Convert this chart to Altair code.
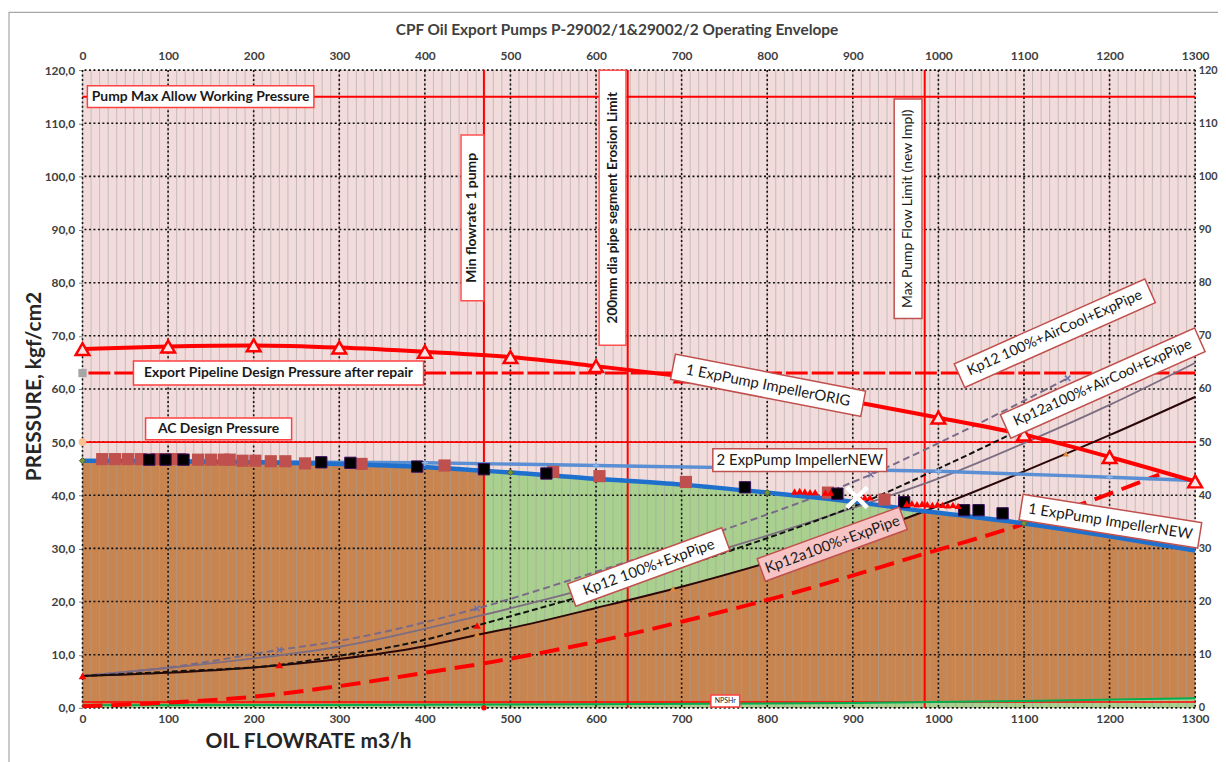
import altair as alt
import pandas as pd

# ---------------- data ----------------
TITLE = "CPF Oil Export Pumps P-29002/1&29002/2 Operating Envelope"
X_MAJOR = list(range(0, 1301, 100))
Y_MAJOR = list(range(0, 121, 10))
X_MINOR = list(range(0, 1301, 10))

# pump curves
new1_x = [0, 100, 200, 300, 400, 469, 500, 600, 700, 800, 900, 984, 1000, 1100, 1200, 1300]
new1_y = [46.5, 46.4, 46.2, 45.9, 45.3, 44.6, 44.3, 43.1, 42.0, 40.5, 38.8, 37.0, 36.7, 34.7, 32.3, 29.6]
new2_x = [0, 200, 400, 600, 800, 1000, 1200, 1300]
new2_y = [46.5, 46.3, 46.1, 45.6, 45.1, 44.5, 43.4, 42.8]
orig_x = [0, 100, 200, 300, 400, 500, 600, 700, 800, 900, 1000, 1100, 1200, 1300]
orig_y = [67.5, 68.0, 68.2, 67.8, 67.0, 66.0, 64.3, 62.4, 60.2, 57.6, 54.6, 51.4, 47.2, 42.6]

# system curves
a_x = [0, 100, 230, 300, 461, 600, 774, 921, 1000, 1151]            # Kp12 100%+AirCool+ExpPipe
a_y = [6.0, 7.6, 10.9, 12.6, 18.7, 25.6, 34.9, 43.9, 49.8, 62.0]
b_x = [0, 100, 230, 300, 461, 600, 700, 800, 900, 1006, 1100, 1200, 1300]  # Kp12 100%+ExpPipe
b_y = [6.0, 7.5, 9.9, 11.5, 17.2, 22.9, 27.5, 32.4, 37.6, 43.5, 49.8, 57.0, 64.9]
c_x = [0, 100, 230, 300, 400, 461, 600, 763, 929, 1000, 1151]        # Kp12a100%+AirCool+ExpPipe
c_y = [6.0, 6.8, 8.1, 9.8, 12.8, 15.5, 21.8, 29.9, 39.8, 45.0, 56.7]
d_x = [0, 100, 200, 300, 400, 469, 500, 600, 700, 800, 900, 984, 1000, 1100, 1200, 1300]  # Kp12a100%+ExpPipe
d_y = [6.0, 6.6, 7.6, 9.2, 11.6, 14.0, 15.0, 18.8, 22.8, 27.3, 32.2, 37.0, 38.0, 44.5, 51.3, 58.5]
e_x = [0, 100, 200, 300, 400, 484, 607, 725, 807, 984, 1100, 1177, 1258]  # red dashed curve
e_y = [0.3, 1.0, 2.1, 4.1, 6.6, 8.8, 12.7, 17.2, 20.6, 29.0, 34.6, 38.9, 43.9]
npsh_x = [0, 300, 600, 900, 1100, 1300]
npsh_y = [0.5, 0.55, 0.7, 0.9, 1.3, 1.8]

# green operating window
green_x = [469, 500, 600, 700, 800, 900, 984]
green_lo = [14.0, 15.0, 18.8, 22.8, 27.3, 32.2, 37.0]
green_hi = [44.6, 44.3, 43.1, 42.0, 40.5, 38.8, 37.0]

# limits
vline_x = [469, 637, 984]
hline_solid_y = [115, 50]
hline_dash_y = [63]
npsh_red_y = [1.1]

# measured points
blk_x = [78, 97, 118, 279, 313, 391, 469, 542, 774, 882, 960, 1030, 1047, 1075]
blk_y = [46.7, 46.7, 46.7, 46.2, 46.1, 45.4, 44.9, 44.1, 41.5, 40.3, 38.7, 37.2, 37.2, 36.6]
red_x = [23, 38, 53, 68, 87, 100, 114, 135, 150, 165, 172, 187, 202, 220, 237, 260, 326, 423, 550, 604, 705, 871, 937]
red_y = [46.8, 46.8, 46.8, 46.8, 46.8, 46.8, 46.8, 46.7, 46.7, 46.7, 46.7, 46.5, 46.5, 46.4, 46.4, 46.0, 45.9,
         45.6, 44.4, 43.6, 42.5, 40.5, 39.2]
tri_x = [832, 838, 844, 850, 856, 868, 874, 908, 914, 920, 963, 969, 975, 981, 987, 993, 999, 1005, 1011, 1017, 1023]
tri_y = [40.7, 40.8, 40.7, 40.6, 40.6, 40.5, 40.5, 39.7, 39.6, 39.6, 38.4, 38.5, 38.3, 38.4, 38.3, 38.2, 38.3,
         38.2, 38.1, 38.2, 38.0]
cx_x = [905]
cx_y = [39.6]
dia_x = [0, 500, 800, 900, 1100]
dia_y = [46.5, 44.3, 40.5, 38.8, 34.7]
plus_x = [400, 600, 800, 1000, 1200]
plus_y = [46.1, 45.6, 45.1, 44.5, 43.4]
ax_mk_x = [230, 461, 921, 1151]
ax_mk_y = [10.9, 18.7, 43.9, 62.0]
c_mk_x = [0, 230, 461, 1151]
c_mk_y = [6.0, 8.1, 15.5, 56.7]
d_mk_x = [461, 690, 1149]
d_mk_y = [13.9, 22.4, 47.8]

# labels: text, x, y, angle, box w, box h, font size, weight, fill, stroke
labels = [
    ("Pump Max Allow Working Pressure", 138, 115.0, 0, 228, 22, 14, "bold", "white", "#ff4040"),
    ("Export Pipeline Design Pressure after repair", 229, 63.0, 0, 292, 24, 14, "bold", "white", "#ff4040"),
    ("AC Design Pressure", 159, 52.5, 0, 147, 22, 14, "bold", "white", "#ff4040"),
    ("Min flowrate 1 pump", 455.6, 92.2, 270, 167, 23, 14, "bold", "white", "#ff5050"),
    ("200mm dia  pipe segment Erosion Limit", 619.3, 94.1, 270, 277, 27, 13.5, "bold", "white", "#ff5050"),
    ("Max Pump Flow Limit (new Impl)", 964.6, 93.9, 270, 221, 28, 14, "normal", "white", "#c0504d"),
    ("1 ExpPump ImpellerORIG", 801, 60.7, 11, 195, 26, 15, "normal", "white", "#c0504d"),
    ("2 ExpPump ImpellerNEW", 838, 46.6, 0, 175, 23, 15, "normal", "white", "#c0504d"),
    ("1 ExpPump ImpellerNEW", 1201, 35.1, 9, 182, 26, 15, "normal", "white", "#c0504d"),
    ("Kp12 100%+ExpPipe", 661.6, 26.5, 340, 165, 24, 15, "normal", "white", "#c0504d"),
    ("Kp12a100%+ExpPipe", 876, 30.8, 340, 152, 24, 15, "normal", "#f6c4c4", "#c0504d"),
    ("Kp12 100%+AirCool+ExpPipe", 1136, 70.5, 336, 210, 26, 14.5, "normal", "white", "#c0504d"),
    ("Kp12a100%+AirCool+ExpPipe", 1192, 61.1, 336, 214, 26, 14.5, "normal", "white", "#c0504d"),
    ("NPSHr", 751, 1.3, 0, 29, 12, 7, "normal", "white", "#ff4040"),
]

# ---------------- helpers ----------------
FONT = "Lato"
xs = alt.Scale(domain=[0, 1300], nice=False, zero=False)
ys = alt.Scale(domain=[0, 120], nice=False, zero=False)


def X(f="x"):
    return alt.X(f"{f}:Q", scale=xs, axis=None)


def Y(f="y"):
    return alt.Y(f"{f}:Q", scale=ys, axis=None)


def df(xv, yv):
    return pd.DataFrame({"x": xv, "y": yv})


def line(xv, yv, color, width, dash=None, interp="monotone"):
    kw = dict(color=color, strokeWidth=width, interpolate=interp)
    if dash:
        kw["strokeDash"] = dash
    return alt.Chart(df(xv, yv)).mark_line(**kw).encode(x=X(), y=Y())


def pts(xv, yv, shape, size, fill=None, stroke=None, sw=1.0):
    kw = dict(shape=shape, size=size, opacity=1, strokeWidth=sw)
    if fill:
        kw["filled"] = True
        kw["fill"] = fill
    else:
        kw["filled"] = False
    if stroke:
        kw["stroke"] = stroke
    else:
        kw["strokeWidth"] = 0
    return alt.Chart(df(xv, yv)).mark_point(**kw).encode(x=X(), y=Y())


layers = []

# fills
brown = pd.DataFrame({"x": new1_x, "y": new1_y, "y0": [0] * len(new1_x)})
layers.append(alt.Chart(brown).mark_area(color="#c98550", interpolate="monotone", opacity=1).encode(
    x=X(), y=Y(), y2="y0:Q"))
green = pd.DataFrame({"x": green_x, "lo": green_lo, "hi": green_hi})
layers.append(alt.Chart(green).mark_area(color="#a9d08e", interpolate="monotone", opacity=1).encode(
    x=X(), y=Y("lo"), y2="hi:Q"))
npsh = pd.DataFrame({"x": npsh_x, "y": npsh_y, "y0": [0] * len(npsh_x)})
layers.append(alt.Chart(npsh).mark_area(color="#a9d08e", opacity=1).encode(x=X(), y=Y(), y2="y0:Q"))

# grids
layers.append(alt.Chart(pd.DataFrame({"x": X_MINOR})).mark_rule(color="#a0a0a0", strokeWidth=1, opacity=0.55)
              .encode(x=X()))
layers.append(alt.Chart(pd.DataFrame({"x": X_MAJOR})).mark_rule(color="#111111", strokeWidth=1.6, strokeDash=[2, 2.5])
              .encode(x=X()))
layers.append(alt.Chart(pd.DataFrame({"y": Y_MAJOR})).mark_rule(color="#111111", strokeWidth=1.6, strokeDash=[2, 2.5])
              .encode(y=Y()))

# limit lines
layers.append(alt.Chart(pd.DataFrame({"y": hline_solid_y})).mark_rule(color="#ff0000", strokeWidth=2)
              .encode(y=Y()))
layers.append(alt.Chart(pd.DataFrame({"y": hline_dash_y})).mark_rule(color="#ff0000", strokeWidth=3, strokeDash=[22, 4])
              .encode(y=Y()))
layers.append(alt.Chart(pd.DataFrame({"y": npsh_red_y})).mark_rule(color="#ff0000", strokeWidth=1.5)
              .encode(y=Y()))
layers.append(alt.Chart(pd.DataFrame({"x": vline_x})).mark_rule(color="#ff0000", strokeWidth=2)
              .encode(x=X()))
layers.append(line(npsh_x, npsh_y, "#00b050", 2, interp="linear"))

# system curves
layers.append(line(e_x, e_y, "#ff0000", 4, dash=[20, 9]))
layers.append(line(b_x, b_y, "#7d6d82", 1.8))
layers.append(line(a_x, a_y, "#7a6a88", 2, dash=[7, 4]))
layers.append(line(d_x, d_y, "#2a0808", 2))
layers.append(line(c_x, c_y, "#111111", 2, dash=[6, 3]))

# pump curves
layers.append(line(new2_x, new2_y, "#5b8fd3", 3.5))
layers.append(line(new1_x, new1_y, "#1f6fcc", 4.5))
layers.append(line(orig_x, orig_y, "#ff0000", 4))

# markers
layers.append(pts(red_x, red_y, "square", 150, fill="#c0504d"))
layers.append(pts(blk_x, blk_y, "square", 130, fill="#000000", stroke="#3a1060", sw=1))
layers.append(pts(tri_x, tri_y, "triangle-up", 55, fill="#ff0000"))
layers.append(pts(dia_x, dia_y, "diamond", 40, fill="#77933c", stroke="#4f6228", sw=1))
layers.append(pts(plus_x, plus_y, "M-1,0L1,0M0,-1L0,1", 40, stroke="#8eb4e3", sw=1.5))
layers.append(pts(ax_mk_x, ax_mk_y, "M-1,-1L1,1M-1,1L1,-1", 30, stroke="#6f70a8", sw=1.5))
layers.append(pts(c_mk_x, c_mk_y, "triangle-up", 60, fill="#ff0000"))
layers.append(pts(d_mk_x, d_mk_y, "triangle-up", 40, fill="#e0883a"))
layers.append(pts(cx_x, cx_y, "M-1,-1L1,1M-1,1L1,-1", 420, stroke="#ffffff", sw=4.5))
layers.append(pts(orig_x, orig_y, "triangle-up", 190, fill="#fbe3e3", stroke="#ff0000", sw=2.5))
layers.append(pts([0], [63], "square", 70, fill="#a6a6a6"))
layers.append(pts([0], [50], "circle", 60, fill="#fac090"))
layers.append(pts([469], [0], "circle", 30, fill="#ff0000"))

# label boxes + text
lab = pd.DataFrame(labels, columns=["text", "x", "y", "angle", "w", "h", "fs", "weight", "fill", "stroke"])
lab["shape"] = [f"M-1,{-h / w:.4f}L1,{-h / w:.4f}L1,{h / w:.4f}L-1,{h / w:.4f}Z" for w, h in zip(lab.w, lab.h)]
lab["size"] = lab.w * lab.w
layers.append(alt.Chart(lab).mark_point(filled=True, opacity=1, strokeWidth=1.5).encode(
    x=X(), y=Y(),
    shape=alt.Shape("shape:N", scale=None),
    size=alt.Size("size:Q", scale=None),
    angle=alt.Angle("angle:Q", scale=None),
    fill=alt.Fill("fill:N", scale=None),
    stroke=alt.Stroke("stroke:N", scale=None),
))
for wt in ["bold", "normal"]:
    layers.append(alt.Chart(lab[lab.weight == wt]).mark_text(
        font=FONT, fontWeight=wt, align="center", baseline="middle", color="#1a1a1a").encode(
        x=X(), y=Y(), text="text:N",
        angle=alt.Angle("angle:Q", scale=None),
        size=alt.Size("fs:Q", scale=None),
    ))

# frame of the chart area and chart title
one = pd.DataFrame({"x": [0], "y": [0], "t": [TITLE]})
layers.append(alt.Chart(one).mark_rect(fillOpacity=0, stroke="#a6a6a6", strokeWidth=1.2).encode(
    x=alt.value(-74), x2=alt.value(1200), y=alt.value(-58), y2=alt.value(760)))
layers.append(alt.Chart(one).mark_text(font=FONT, fontSize=15.5, fontWeight="bold", color="#404040",
                                       align="center", baseline="middle").encode(
    x=alt.value(538), y=alt.value(-40), text="t:N"))

# axes
lab_style = dict(labelFont=FONT, labelFontSize=12, labelFontWeight="bold", labelColor="#404040",
                 labelFlush=False, labelOverlap=False, domain=False, grid=False)
layers.append(alt.Chart(one).mark_point(opacity=0).encode(
    x=alt.X("x:Q", scale=xs, axis=alt.Axis(
        orient="bottom", values=X_MAJOR, format="d", ticks=False, labelPadding=6,
        title="OIL FLOWRATE m3/h", titleFont=FONT, titleFontSize=21, titleFontWeight="bold",
        titleColor="#262626", titleX=227, titleY=40, titleAlign="center", titleBaseline="alphabetic",
        **lab_style)),
    y=alt.Y("y:Q", scale=ys, axis=alt.Axis(
        orient="left", values=Y_MAJOR, labelExpr="replace(format(datum.value, '.1f'), '.', ',')",
        ticks=True, tickSize=4, tickColor="#808080", labelPadding=4,
        title="PRESSURE, kgf/cm2", titleFont=FONT, titleFontSize=21, titleFontWeight="bold",
        titleColor="#262626", titleX=-48, titleY=318, titleAngle=270, titleBaseline="middle",
        **lab_style)),
))
layers.append(alt.Chart(one).mark_point(opacity=0).encode(
    x=alt.X("x:Q", scale=xs, axis=alt.Axis(
        orient="top", values=X_MAJOR, format="d", ticks=False, labelPadding=8, title="", **lab_style)),
    y=alt.Y("y:Q", scale=ys, axis=alt.Axis(
        orient="right", values=Y_MAJOR, format="d", ticks=False, labelPadding=3, title="",
        **{**lab_style, "labelFontSize": 11})),
))

chart = alt.layer(*layers).resolve_axis(x="independent", y="independent").properties(
    width=1120, height=642,
    autosize="none",
    padding={"left": 75, "top": 60, "right": 23, "bottom": 52},
).configure(background="white").configure_view(fill="#f2dcdb", strokeWidth=0)

chart.save("out.html", embed_options={"renderer": "svg", "actions": False})
